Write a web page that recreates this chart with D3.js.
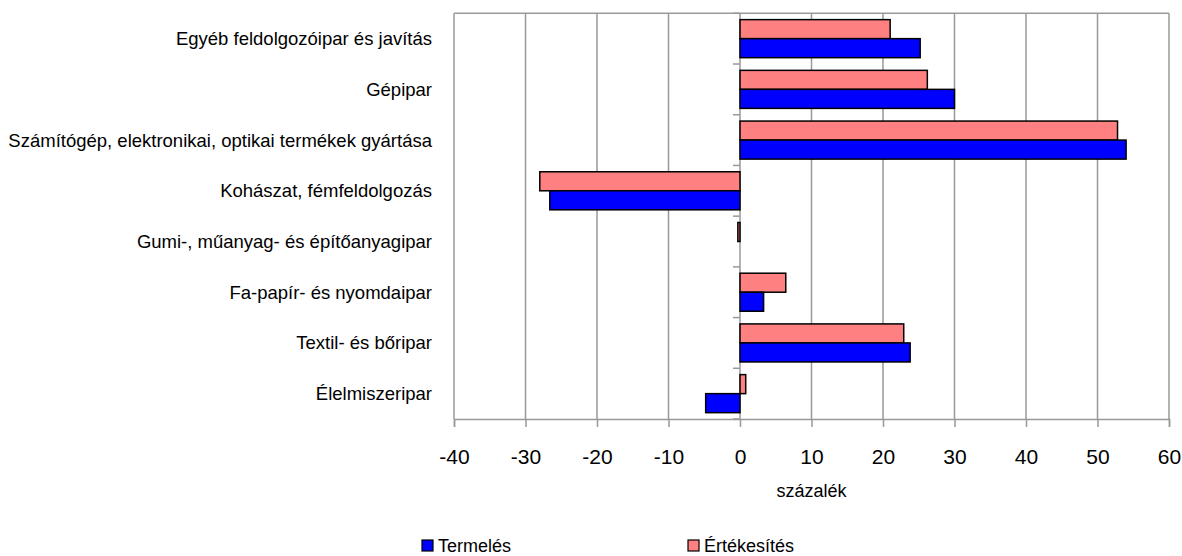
<!DOCTYPE html>
<html>
<head>
<meta charset="utf-8">
<script src="https://cdn.jsdelivr.net/npm/d3@7"></script>
<style>
  html, body { margin: 0; padding: 0; background: #fff; }
  svg { display: block; }
  text { font-family: "Liberation Sans Narrow", "Liberation Sans", Arial, sans-serif; fill: #000; }
</style>
</head>
<body>
<svg id="chart" width="1182" height="556"></svg>
<script>
const categories = [
  "Egyéb feldolgozóipar és javítás",
  "Gépipar",
  "Számítógép, elektronikai, optikai termékek gyártása",
  "Kohászat, fémfeldolgozás",
  "Gumi-, műanyag- és építőanyagipar",
  "Fa-papír- és nyomdaipar",
  "Textil- és bőripar",
  "Élelmiszeripar"
];
const seriesNames = ["Értékesítés", "Termelés"];
const ertekesites = [21.0, 26.2, 52.8, -28.0, -0.3, 6.4, 22.9, 0.8];
const termeles    = [25.2, 30.0, 54.0, -26.6, 0.0, 3.3, 23.8, -4.8];
const xTicks = [-40, -30, -20, -10, 0, 10, 20, 30, 40, 50, 60];
const xTitle = "százalék";
const legendOrder = ["Termelés", "Értékesítés"];
const colors = { "Termelés": "#0000FF", "Értékesítés": "#FF8080" };

const svg = d3.select("#chart");
const m = { left: 454, right: 1169, top: 13.3, bottom: 419 };

const x = d3.scaleLinear().domain([-40, 60]).range([m.left, m.right]);
const y0 = d3.scaleBand().domain(categories).range([m.top, m.bottom]).paddingInner(0.25).paddingOuter(0.125);
const yStep = (m.bottom - m.top) / categories.length;
const y1 = d3.scaleBand().domain(seriesNames).range([0, y0.bandwidth()]);

const grid = "#999999";

// gridlines
svg.append("g").selectAll("line").data(xTicks).join("line")
  .attr("x1", d => x(d)).attr("x2", d => x(d))
  .attr("y1", m.top).attr("y2", m.bottom)
  .attr("stroke", grid).attr("stroke-width", 1.5);

// frame top
svg.append("line").attr("x1", m.left).attr("x2", m.right).attr("y1", m.top).attr("y2", m.top)
  .attr("stroke", grid).attr("stroke-width", 1.5);

// x axis
const xAxis = d3.axisBottom(x).tickValues(xTicks).tickSize(8).tickPadding(22).tickFormat(d => String(d));
const gx = svg.append("g").attr("transform", `translate(0,${m.bottom})`).call(xAxis);
gx.select(".domain").attr("stroke", grid).attr("stroke-width", 1.5);
gx.selectAll(".tick line").attr("stroke", grid).attr("stroke-width", 1.5);
gx.selectAll(".tick text").attr("font-size", 21).attr("fill", "#000")
  .style("font-family", '"Liberation Sans Narrow", "Liberation Sans", Arial, sans-serif');

// category ticks at zero line
const bounds = d3.range(categories.length + 1).map(i => m.top + i * yStep);
svg.append("g").selectAll("line").data(bounds).join("line")
  .attr("x1", x(0) - 7).attr("x2", x(0))
  .attr("y1", d => d).attr("y2", d => d)
  .attr("stroke", grid).attr("stroke-width", 1.5);

// bars
const rows = categories.map((c, i) => ({ cat: c, vals: [
  { s: "Értékesítés", v: ertekesites[i] },
  { s: "Termelés", v: termeles[i] }
]}));
const g = svg.append("g");
rows.forEach(r => {
  r.vals.forEach(d => {
    if (d.v === 0) return;
    g.append("rect")
      .attr("x", x(Math.min(0, d.v)))
      .attr("y", y0(r.cat) + y1(d.s))
      .attr("width", Math.abs(x(d.v) - x(0)))
      .attr("height", y1.bandwidth())
      .attr("fill", colors[d.s])
      .attr("stroke", "#000").attr("stroke-width", 1.5);
  });
});

// category labels
svg.append("g").selectAll("text").data(categories).join("text")
  .attr("x", 432)
  .attr("y", d => y0(d) + y0.bandwidth() / 2)
  .attr("dy", "0.35em")
  .attr("text-anchor", "end")
  .attr("font-size", 18.5)
  .text(d => d);

// x title
svg.append("text").attr("x", x(10)).attr("y", 497).attr("text-anchor", "middle")
  .attr("font-size", 18).text(xTitle);

// legend
const legX = { "Termelés": 422, "Értékesítés": 688 };
legendOrder.forEach(s => {
  svg.append("rect").attr("x", legX[s]).attr("y", 540).attr("width", 11).attr("height", 11)
    .attr("fill", colors[s]).attr("stroke", "#000").attr("stroke-width", 1.2);
  svg.append("text").attr("x", legX[s] + 16).attr("y", 552).attr("font-size", 18).text(s);
});
</script>
</body>
</html>
